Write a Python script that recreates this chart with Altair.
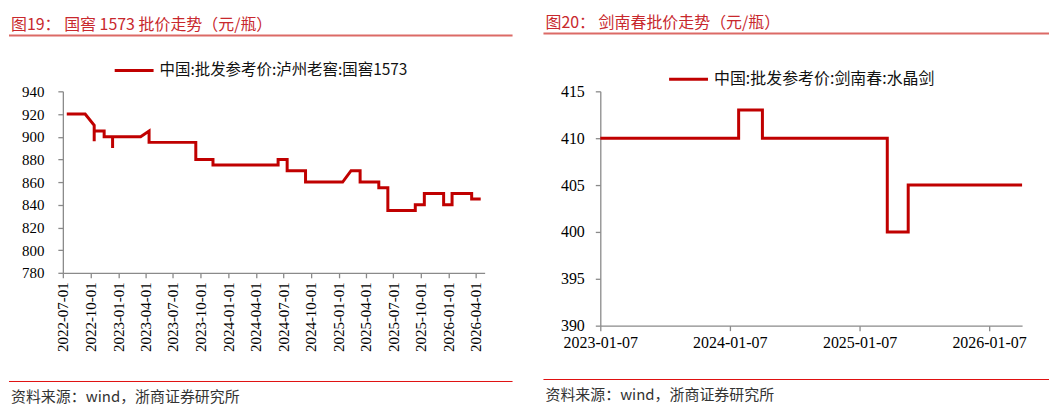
import altair as alt
import pandas as pd

# ---------------- data ----------------
LEFT_TITLE = "图19：  国窖 1573 批价走势（元/瓶）"
RIGHT_TITLE = "图20： 剑南春批价走势（元/瓶）"
LEFT_LEGEND = "中国:批发参考价:泸州老窖:国窖1573"
RIGHT_LEGEND = "中国:批发参考价:剑南春:水晶剑"
SOURCE = "资料来源：wind，浙商证券研究所"

LEFT_DATES = ["2022-07-14", "2022-09-13", "2022-10-13", "2022-10-13", "2022-10-13",
              "2022-11-15", "2022-11-15", "2022-12-13", "2022-12-13", "2022-12-13",
              "2023-03-16", "2023-04-13", "2023-04-13", "2023-09-15", "2023-09-15",
              "2023-11-11", "2023-11-11", "2024-06-14", "2024-06-14", "2024-07-14",
              "2024-07-14", "2024-09-13", "2024-09-13", "2025-01-14", "2025-02-11",
              "2025-03-13", "2025-03-13", "2025-05-14", "2025-05-14", "2025-06-13",
              "2025-06-13", "2025-09-12", "2025-09-12", "2025-10-12", "2025-10-12",
              "2025-12-15", "2025-12-15", "2026-01-12", "2026-01-12", "2026-03-18",
              "2026-03-18", "2026-04-17"]
LEFT_VALUES = [920, 920, 910, 896, 905,
               905, 900, 900, 890, 900,
               900, 905, 895, 895, 880,
               880, 875, 875, 880, 880,
               870, 870, 860, 860, 870,
               870, 860, 860, 855, 855,
               835, 835, 840, 840, 850,
               850, 840, 840, 850, 850,
               845, 845]

RIGHT_DATES = ["2023-01-07", "2024-02-01", "2024-02-01", "2024-04-08", "2024-04-08",
               "2025-03-26", "2025-03-26", "2025-05-24", "2025-05-24", "2026-04-10"]
RIGHT_VALUES = [410, 410, 413, 413, 410, 410, 400, 400, 405, 405]

LEFT_X_TICKS = ["2022-07-01", "2022-10-01", "2023-01-01", "2023-04-01", "2023-07-01",
                "2023-10-01", "2024-01-01", "2024-04-01", "2024-07-01", "2024-10-01",
                "2025-01-01", "2025-04-01", "2025-07-01", "2025-10-01", "2026-01-01",
                "2026-04-01"]
LEFT_X_DOMAIN = ["2022-07-01", "2026-04-30"]
LEFT_Y_TICKS = [780, 800, 820, 840, 860, 880, 900, 920, 940]

RIGHT_X_TICKS = ["2023-01-07", "2024-01-07", "2025-01-07", "2026-01-07"]
RIGHT_X_DOMAIN = ["2023-01-07", "2026-04-10"]
RIGHT_Y_TICKS = [390, 395, 400, 405, 410, 415]

# ---------------- style ----------------
LINE_RED = "#C00000"
TITLE_RED = "#C8282D"
TITLE_RULE = "#DC6A66"
BOTTOM_RULE = "#E01010"
AXIS_GRAY = "#8A8A8A"
CJK = "Noto Sans CJK SC"
SERIF = "Liberation Serif"


def dt(s):
    y, m, d = (int(p) for p in s.split("-"))
    return alt.DateTime(year=y, month=m, date=d, utc=True)


def panel(dates, values, x_ticks, x_dom, y_ticks, w, h, title, legend,
          angle, fsize, ypad, xpad, leg_x, leg_y, top_y, title_y, rule_y,
          rule_x1, rule_x2, bottom_y, legend_fs):
    df = pd.DataFrame({"d": dates, "v": values, "i": list(range(len(values)))})
    xaxis = alt.Axis(values=[dt(s) for s in x_ticks],
                     labelExpr="utcFormat(datum.value, '%Y-%m-%d')",
                     labelAngle=angle, labelFont=SERIF,
                     labelFontSize=fsize, labelColor="#000", labelPadding=xpad,
                     tickSize=5, tickColor=AXIS_GRAY, domainColor=AXIS_GRAY,
                     domainWidth=1.3, tickWidth=1.3, grid=False, title=None,
                     labelFlush=False, labelOverlap=False)
    yaxis = alt.Axis(values=y_ticks, format="d", labelFont=SERIF,
                     labelFontSize=fsize, labelColor="#000", labelPadding=ypad,
                     tickSize=5, tickColor=AXIS_GRAY, domainColor=AXIS_GRAY,
                     domainWidth=1.3, tickWidth=1.3, grid=False, title=None,
                     labelFlush=False, labelOverlap=False)
    line = alt.Chart(df).mark_line(color=LINE_RED, strokeWidth=3,
                                   strokeJoin="miter").encode(
        x=alt.X("d:T", scale=alt.Scale(type="utc", domain=[dt(s) for s in x_dom]),
                axis=xaxis),
        y=alt.Y("v:Q", scale=alt.Scale(domain=[y_ticks[0], y_ticks[-1]],
                                       nice=False, zero=False), axis=yaxis),
        order=alt.Order("i:Q"),
    )
    one = pd.DataFrame({"t": [legend]})
    leg_rule = alt.Chart(one).mark_rule(color=LINE_RED, strokeWidth=3).encode(
        x=alt.value(leg_x), x2=alt.value(leg_x + 39), y=alt.value(leg_y))
    leg_text = alt.Chart(one).mark_text(align="left", baseline="middle", font=CJK,
                                        fontSize=legend_fs, color="#111").encode(
        x=alt.value(leg_x + 45), y=alt.value(leg_y), text="t:N")
    ttl = pd.DataFrame({"t": [title]})
    # invisible spacer that fixes the top edge of the panel
    top_spacer = alt.Chart(ttl).mark_rule(color="white", opacity=0,
                                          strokeWidth=1).encode(
        x=alt.value(rule_x1), x2=alt.value(rule_x1 + 10), y=alt.value(top_y))
    title_text = alt.Chart(ttl).mark_text(align="left", baseline="middle", font=CJK,
                                          fontSize=16, color=TITLE_RED).encode(
        x=alt.value(rule_x1 + 2), y=alt.value(title_y), text="t:N")
    title_rule = alt.Chart(ttl).mark_rule(color=TITLE_RULE, strokeWidth=2).encode(
        x=alt.value(rule_x1), x2=alt.value(rule_x2), y=alt.value(rule_y))
    src = pd.DataFrame({"t": [SOURCE]})
    bottom_rule = alt.Chart(src).mark_rule(color=BOTTOM_RULE, strokeWidth=1).encode(
        x=alt.value(rule_x1), x2=alt.value(rule_x2), y=alt.value(bottom_y))
    src_text = alt.Chart(src).mark_text(align="left", baseline="middle", font=CJK,
                                        fontSize=15, color="#333").encode(
        x=alt.value(rule_x1 + 2), y=alt.value(bottom_y + 16), text="t:N")
    return alt.layer(line, leg_rule, leg_text, top_spacer, title_text, title_rule,
                     bottom_rule, src_text).properties(width=w, height=h)


left = panel(LEFT_DATES, LEFT_VALUES, LEFT_X_TICKS, LEFT_X_DOMAIN, LEFT_Y_TICKS,
             423, 182, LEFT_TITLE, LEFT_LEGEND, -90, 15, 14, 4,
             leg_x=52, leg_y=-21, top_y=-80.5, title_y=-67, rule_y=-56,
             rule_x1=-54, rule_x2=451, bottom_y=291, legend_fs=15.5)
right = panel(RIGHT_DATES, RIGHT_VALUES, RIGHT_X_TICKS, RIGHT_X_DOMAIN, RIGHT_Y_TICKS,
              423, 235, RIGHT_TITLE, RIGHT_LEGEND, 0, 16, 11, 4,
              leg_x=69, leg_y=-12, top_y=-82.5, title_y=-69, rule_y=-58,
              rule_x1=-57, rule_x2=450, bottom_y=289, legend_fs=16)

chart = alt.hconcat(left, right, spacing=29).properties(
    padding=0, background="white"
).configure_view(stroke=None)

chart.save("out.html", embed_options={"renderer": "svg", "actions": False})
